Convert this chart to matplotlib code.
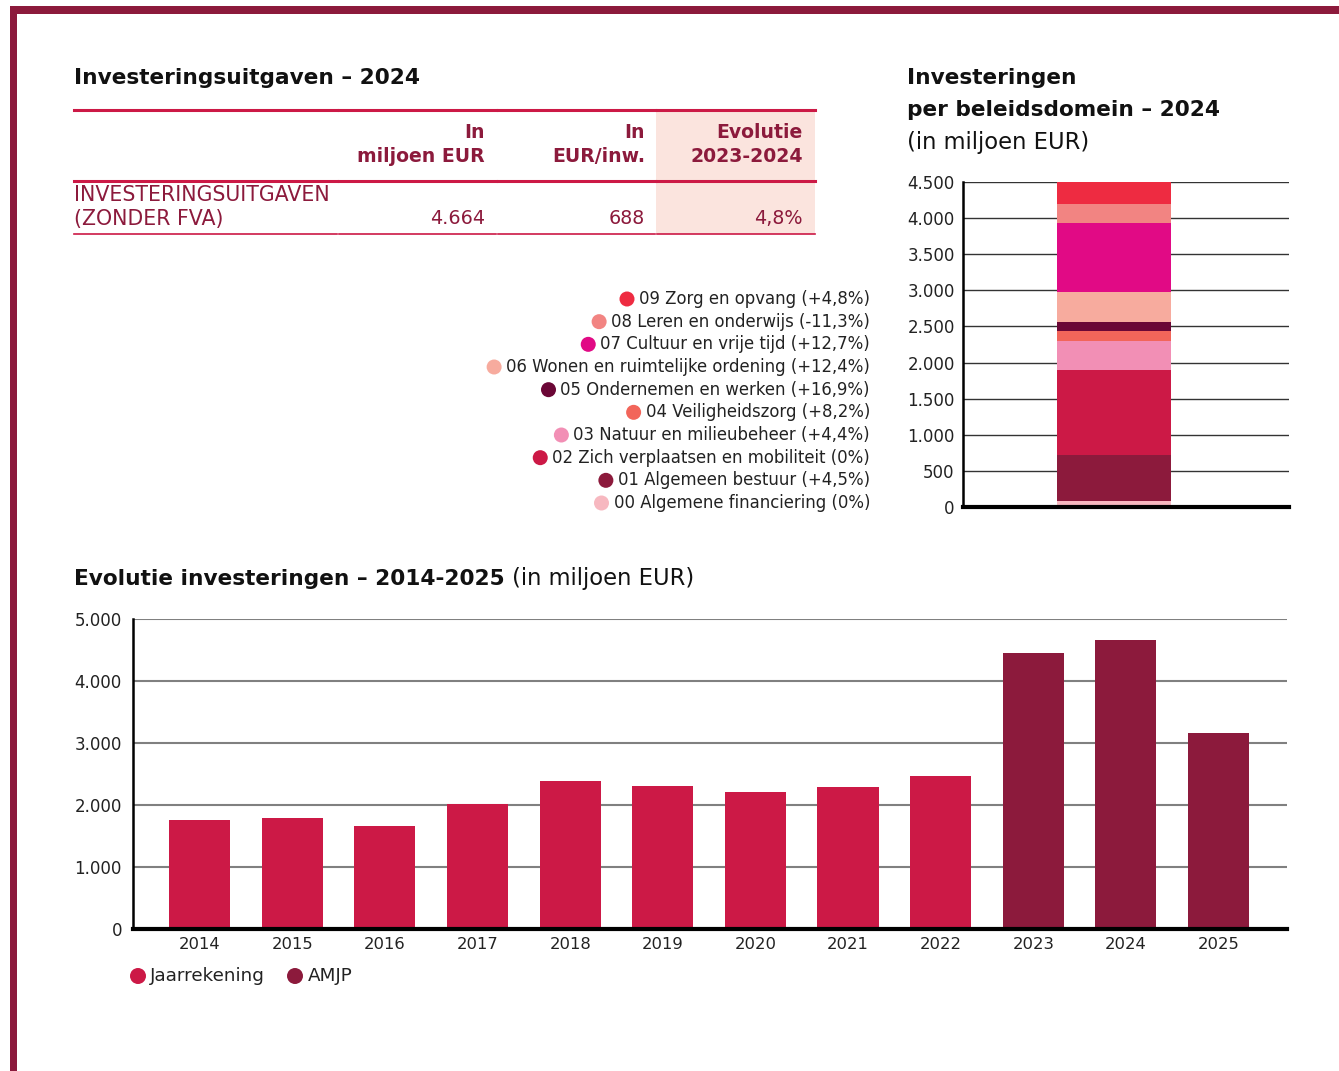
import matplotlib
matplotlib.use("Agg")
import matplotlib.pyplot as plt
from matplotlib.patches import Rectangle, Circle
from matplotlib.lines import Line2D

plt.rcParams['font.family'] = ['DejaVu Sans']

# ---------------- data ----------------
years = ['2014', '2015', '2016', '2017', '2018', '2019', '2020', '2021', '2022', '2023', '2024', '2025']
investments = [1758, 1790, 1661, 2016, 2387, 2306, 2210, 2290, 2468, 4452, 4664, 3161]
bar_source = ['Jaarrekening'] * 9 + ['AMJP'] * 3

domain_labels = ['00 Algemene financiering (0%)',
                 '01 Algemeen bestuur (+4,5%)',
                 '02 Zich verplaatsen en mobiliteit (0%)',
                 '03 Natuur en milieubeheer (+4,4%)',
                 '04 Veiligheidszorg (+8,2%)',
                 '05 Ondernemen en werken (+16,9%)',
                 '06 Wonen en ruimtelijke ordening (+12,4%)',
                 '07 Cultuur en vrije tijd (+12,7%)',
                 '08 Leren en onderwijs (-11,3%)',
                 '09 Zorg en opvang (+4,8%)']
domain_values = [88, 637, 1177, 401, 139, 124, 416, 955, 263, 464]
domain_colors = ['#F7B8C0', '#8C1A3C', '#CC1946', '#F28FB5', '#F2655A',
                 '#6B0736', '#F7AB9E', '#E10A85', '#F28482', '#EE2B41']

table_header = ['In\nmiljoen EUR', 'In\nEUR/inw.', 'Evolutie\n2023-2024']
table_row_label = 'INVESTERINGSUITGAVEN\n(ZONDER FVA)'
table_values = ['4.664', '688', '4,8%']

stack_ticks = [0, 500, 1000, 1500, 2000, 2500, 3000, 3500, 4000, 4500]
bar_ticks = [0, 1000, 2000, 3000, 4000, 5000]

def fmt(v):
    return f"{v:,}".replace(",", ".")

# ---------------- colours ----------------
MAROON = '#8C1A3C'
CRIMSON = '#CC1946'
TEXT = '#222222'
GRID = '#808080'
source_colors = {'Jaarrekening': CRIMSON, 'AMJP': MAROON}

W, H = 1339, 1071
fig = plt.figure(figsize=(W / 100, H / 100), dpi=100)
fig.patch.set_facecolor('white')

# overlay axis in pixel coordinates
ov = fig.add_axes([0, 0, 1, 1])
ov.set_xlim(0, W)
ov.set_ylim(H, 0)
ov.axis('off')
ov.set_facecolor('none')

# frame
ov.add_patch(Rectangle((10, 6), W - 10, 8, color=MAROON, lw=0))
ov.add_patch(Rectangle((10, 6), 7, H - 6, color=MAROON, lw=0))

TITLE_FS = 15.6

# ---------------- table ----------------
ov.text(74, 78, 'Investeringsuitgaven – 2024', fontsize=TITLE_FS, fontweight='bold',
        color='#111111', va='center', ha='left')
ov.add_patch(Rectangle((656, 110), 159, 124, color='#FBE4DE', lw=0))
segs = [(74, 337), (339, 496), (498, 655), (657, 815)]
for (a, b) in segs:
    ov.add_line(Line2D([a, b], [110, 110], color=CRIMSON, lw=2.2))
    ov.add_line(Line2D([a, b], [181, 181], color=CRIMSON, lw=2.2))
    ov.add_line(Line2D([a, b], [234, 234], color=CRIMSON, lw=1.2))
col_right = [485, 645, 803]
for x, h in zip(col_right, table_header):
    l1, l2 = h.split('\n')
    ov.text(x, 133, l1, fontsize=13.6, fontweight='bold', color=MAROON, ha='right', va='center')
    ov.text(x, 157, l2, fontsize=13.6, fontweight='bold', color=MAROON, ha='right', va='center')
r1, r2 = table_row_label.split('\n')
ov.text(74, 195, r1, fontsize=14.8, color=MAROON, ha='left', va='center')
ov.text(74, 219, r2, fontsize=14.8, color=MAROON, ha='left', va='center')
for x, v in zip(col_right, table_values):
    ov.text(x, 219, v, fontsize=13.8, color=MAROON, ha='right', va='center')

# ---------------- right title ----------------
ov.text(907, 78, 'Investeringen', fontsize=TITLE_FS, fontweight='bold', color='#111111', va='center')
ov.text(907, 110, 'per beleidsdomein – 2024', fontsize=TITLE_FS, fontweight='bold', color='#111111', va='center')
ov.text(907, 142, '(in miljoen EUR)', fontsize=16.3, color='#111111', va='center')

# ---------------- legend of domains ----------------
y0 = 299
dy = (503 - 299) / 9
for i, (lab, col) in enumerate(zip(domain_labels[::-1], domain_colors[::-1])):
    y = y0 + i * dy
    t = ov.text(870, y, lab, fontsize=11.9, color=TEXT, ha='right', va='center')
    fig.canvas.draw()
    bb = t.get_window_extent()
    xl = bb.x0
    ov.add_patch(Circle((xl - 12, y), 7.5, color=col, lw=0))

# ---------------- stacked bar ----------------
def px_axes(l, t, r, b):
    return fig.add_axes([l / W, 1 - b / H, (r - l) / W, (b - t) / H])

ax2 = px_axes(963, 182, 1289, 507)
ax2.set_facecolor('none')
bottom = 0
for v, c in zip(domain_values, domain_colors):
    ax2.bar(0.464, v, width=0.35, bottom=bottom, color=c, lw=0, zorder=3)
    bottom += v
ax2.set_xlim(0, 1)
ax2.set_ylim(0, 4500)
ax2.set_yticks(stack_ticks)
ax2.set_yticklabels([fmt(v) for v in stack_ticks], fontsize=12, color=TEXT)
ax2.set_xticks([])
ax2.tick_params(axis='y', length=0, pad=6)
ax2.grid(axis='y', color='#333333', lw=1.0, zorder=0)
for s in ['top', 'right']:
    ax2.spines[s].set_visible(False)
ax2.spines['left'].set_linewidth(1.8)
ax2.spines['bottom'].set_linewidth(3)
ax2.spines['left'].set_zorder(5)
ax2.spines['bottom'].set_zorder(5)

# ---------------- bottom bar chart ----------------
fig.canvas.draw()
t1 = ov.text(74, 579, 'Evolutie investeringen – 2014-2025', fontsize=TITLE_FS, fontweight='bold',
             color='#111111', va='center', ha='left')
fig.canvas.draw()
bb = t1.get_window_extent()
ov.text(bb.x1 + 7, 579, '(in miljoen EUR)', fontsize=16.3, color='#111111', va='center', ha='left')

ax = px_axes(133, 619, 1287, 929)
ax.set_facecolor('none')
xs = list(range(len(years)))
ax.bar(xs, investments, width=0.66, color=[source_colors[s] for s in bar_source], lw=0, zorder=3)
ax.set_xlim(-0.72, 11.74)
ax.set_ylim(0, 5000)
ax.set_yticks(bar_ticks)
ax.set_yticklabels([fmt(v) for v in bar_ticks], fontsize=12, color=TEXT)
ax.set_xticks(xs)
ax.set_xticklabels(years, fontsize=11.8, color=TEXT)
ax.tick_params(axis='both', length=0)
ax.tick_params(axis='y', pad=8)
ax.tick_params(axis='x', pad=6)
ax.grid(axis='y', color=GRID, lw=1.5, zorder=0)
for s in ['top', 'right']:
    ax.spines[s].set_visible(False)
ax.spines['left'].set_linewidth(1.8)
ax.spines['bottom'].set_linewidth(3)
ax.spines['left'].set_zorder(5)
ax.spines['bottom'].set_zorder(5)

# bottom legend
ov.add_patch(Circle((138, 976), 8, color=CRIMSON, lw=0))
ov.text(150, 976, 'Jaarrekening', fontsize=13.2, color=TEXT, va='center', ha='left')
ov.add_patch(Circle((295, 976), 8, color=MAROON, lw=0))
ov.text(308, 976, 'AMJP', fontsize=13.2, color=TEXT, va='center', ha='left')

fig.savefig('out.png', dpi=100, facecolor='white')
